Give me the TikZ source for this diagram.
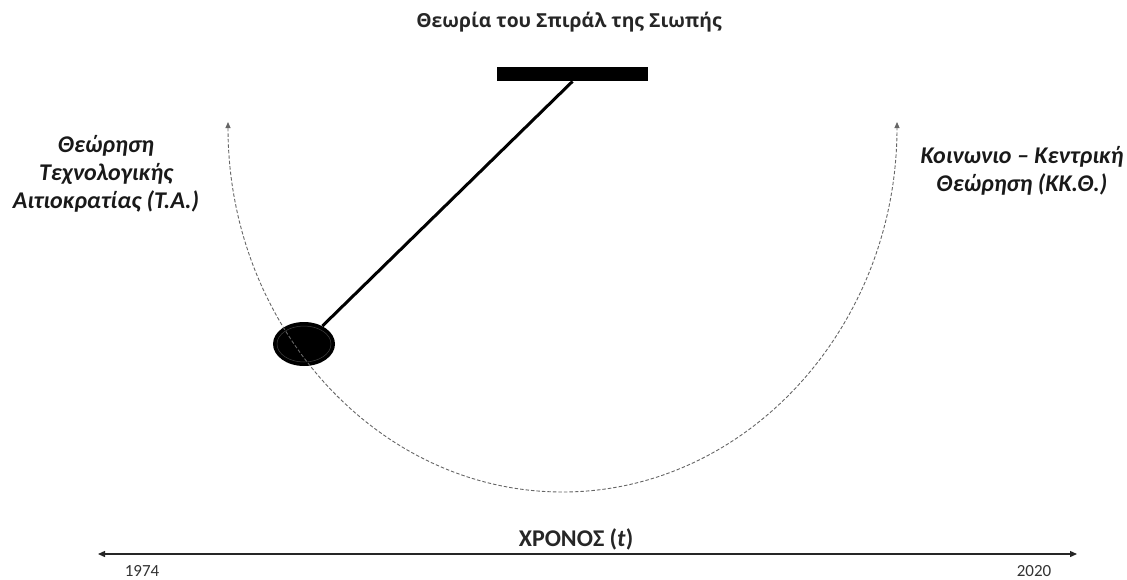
\documentclass[tikz,border=0pt]{standalone}
\usepackage{fontspec}
\setmainfont{Open Sans}
\newfontfamily\carlitofont{Carlito}
\usetikzlibrary{arrows.meta,shapes.geometric}
\begin{document}
\begin{tikzpicture}[x=1pt,y=-1pt,
  title/.style={font=\fontsize{19.3}{22}\selectfont\bfseries, text=black!85},
  timelbl/.style={font=\carlitofont\fontsize{24}{26}\selectfont\bfseries, text=black!85},
  side/.style={font=\carlitofont\fontsize{24}{28}\selectfont\bfseries\itshape, align=center, text=black!90},
  year/.style={font=\carlitofont\fontsize{17}{19}\selectfont, text=black!80, inner sep=0pt},
  swing/.style={dashed, dash pattern=on 3.5pt off 2pt, line width=0.9pt, draw=black!60, {Triangle[length=6pt,width=5pt]}-{Triangle[length=6pt,width=5pt]}},
  axis/.style={line width=1.3pt, draw=black!85, {Triangle[length=7pt,width=6pt]}-{Triangle[length=7pt,width=6pt]}}
]
\useasboundingbox (0,0) rectangle (1127,579);
\node[title] (ttl) at (569,22) {Θεωρία του Σπιράλ της Σιωπής};
\node[draw=none, fill=black, minimum width=151pt, minimum height=14pt, inner sep=0pt, anchor=north] (bar) at (572.5,67) {};
\node[ellipse, fill=black, minimum width=62pt, minimum height=44pt, inner sep=0pt] (bob) at (304,344) {};
\draw[black!75, line width=0.5pt] (304,344) ellipse[x radius=27, y radius=18];
\draw[line width=3pt] (bar.south) -- (bob);
\coordinate (lt) at (228,122);
\coordinate (rt) at (897,122);
\draw[swing] (lt) arc[start angle=180, end angle=0, x radius=334.5, y radius=370];
\node[side] (ta) at (106,174) {Θεώρηση\\Τεχνολογικής\\Αιτιοκρατίας (Τ.Α.)};
\node[side] (kk) at (1022,171) {Κοινωνιο – Κεντρική\\Θεώρηση (ΚΚ.Θ.)};
\coordinate (al) at (98,554);
\coordinate (ar) at (1077,554);
\draw[axis] (al) -- (ar);
\node[timelbl] (time) at (576,539) {ΧΡΟΝΟΣ (\textit{t})};
\node[year] (y1) at (142,571) {1974};
\node[year] (y2) at (1034,571) {2020};
\end{tikzpicture}
\end{document}
